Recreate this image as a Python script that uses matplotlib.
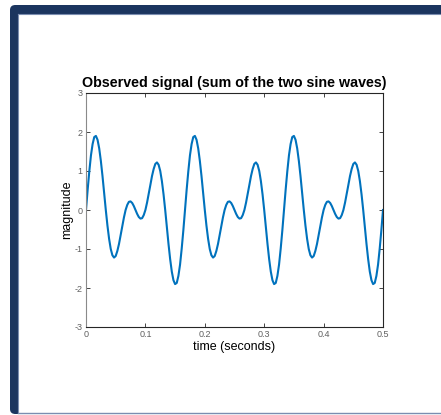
import numpy as np
import matplotlib.pyplot as plt
from matplotlib.patches import FancyBboxPatch, Rectangle

magnitude = [0, 0.52, 0.99, 1.40, 1.69, 1.87, 1.90, 1.80, 1.58, 1.26,
             0.87, 0.43, 0, -0.40, -0.74, -1.00, -1.16, -1.22, -1.18, -1.05,
             -0.87, -0.64, -0.41, -0.19, 0, 0.13, 0.21, 0.22, 0.18, 0.10,
             0, -0.10, -0.18, -0.22, -0.21, -0.13, 0, 0.19, 0.41, 0.64,
             0.87, 1.05, 1.18, 1.22, 1.16, 1.00, 0.74, 0.40, 0, -0.43,
             -0.87, -1.26, -1.58, -1.80, -1.90, -1.87, -1.69, -1.40, -0.99, -0.52,
             0, 0.52, 0.99, 1.40, 1.69, 1.87, 1.90, 1.80, 1.58, 1.26,
             0.87, 0.43, 0, -0.40, -0.74, -1.00, -1.16, -1.22, -1.18, -1.05,
             -0.87, -0.64, -0.41, -0.19, 0, 0.13, 0.21, 0.22, 0.18, 0.10,
             0, -0.10, -0.18, -0.22, -0.21, -0.13, 0, 0.19, 0.41, 0.64,
             0.87, 1.05, 1.18, 1.22, 1.16, 1.00, 0.74, 0.40, 0, -0.43,
             -0.87, -1.26, -1.58, -1.80, -1.90, -1.87, -1.69, -1.40, -0.99, -0.52,
             0, 0.52, 0.99, 1.40, 1.69, 1.87, 1.90, 1.80, 1.58, 1.26,
             0.87, 0.43, 0, -0.40, -0.74, -1.00, -1.16, -1.22, -1.18, -1.05,
             -0.87, -0.64, -0.41, -0.19, 0, 0.13, 0.21, 0.22, 0.18, 0.10,
             0, -0.10, -0.18, -0.22, -0.21, -0.13, 0, 0.19, 0.41, 0.64,
             0.87, 1.05, 1.18, 1.22, 1.16, 1.00, 0.74, 0.40, 0, -0.43,
             -0.87, -1.26, -1.58, -1.80, -1.90, -1.87, -1.69, -1.40, -0.99, -0.52,
             0]
time = np.linspace(0, 0.5, len(magnitude))

x_ticks = [0, 0.1, 0.2, 0.3, 0.4, 0.5]
x_tick_labels = ["0", "0.1", "0.2", "0.3", "0.4", "0.5"]
y_ticks = [-3, -2, -1, 0, 1, 2, 3]

W, H = 441, 415
plt.rcParams["font.family"] = ["Liberation Sans", "DejaVu Sans"]
plt.rcParams["axes.unicode_minus"] = False
fig = plt.figure(figsize=(W / 100, H / 100), dpi=100)


def px(x, y):
    # pixel coords (top-left origin) -> figure fraction
    return x / W, 1 - y / H


# slide frame: navy border on left and top, thin line at bottom
navy = "#1b355f"
x0, y0 = px(10, 414)
fig.patches.append(FancyBboxPatch((x0, y0), 1.2, 1 - 5 / H - y0,
                                  boxstyle="round,pad=0,rounding_size=0.012",
                                  transform=fig.transFigure, facecolor=navy,
                                  edgecolor="none", zorder=-3))
x1, y1 = px(18, 413)
fig.patches.append(Rectangle((x1, y1), 1.2, 1 - 14 / H - y1,
                             transform=fig.transFigure, facecolor="white",
                             edgecolor="none", zorder=-2))
fig.lines.append(plt.Line2D([x1, x1], [y1, 1 - 14 / H], transform=fig.transFigure,
                            color="#7a8db0", lw=0.8, zorder=-1))
fig.lines.append(plt.Line2D([x1, 1], [1 - 14 / H, 1 - 14 / H], transform=fig.transFigure,
                            color="#7a8db0", lw=0.8, zorder=-1))
fig.lines.append(plt.Line2D([x1, 1], [y1, y1], transform=fig.transFigure,
                            color="#7a8db0", lw=1.0, zorder=-1))

ax = fig.add_axes([86 / W, 1 - 327 / H, 297 / W, 234 / H])
ax.plot(time, magnitude, color="#0072BD", linewidth=1.5)

ax.set_xlim(0, 0.5)
ax.set_ylim(-3, 3)
ax.set_xticks(x_ticks)
ax.set_xticklabels(x_tick_labels)
ax.set_yticks(y_ticks)
ax.tick_params(direction="in", length=3, width=0.6, labelsize=6.5,
               labelcolor="#606060", color="#262626", pad=2.5,
               top=True, right=True)
for side in ["top", "right", "bottom"]:
    ax.spines[side].set_color("#262626")
    ax.spines[side].set_linewidth(0.8)
ax.spines["left"].set_color("#8a8a8a")
ax.spines["left"].set_linewidth(0.8)

ax.set_title("Observed signal (sum of the two sine waves)", fontsize=10.3,
             fontweight="bold", pad=4)
ax.set_xlabel("time (seconds)", fontsize=9, labelpad=1)
ax.set_ylabel("magnitude", fontsize=9, labelpad=1)

fig.savefig("out.png", dpi=100)
